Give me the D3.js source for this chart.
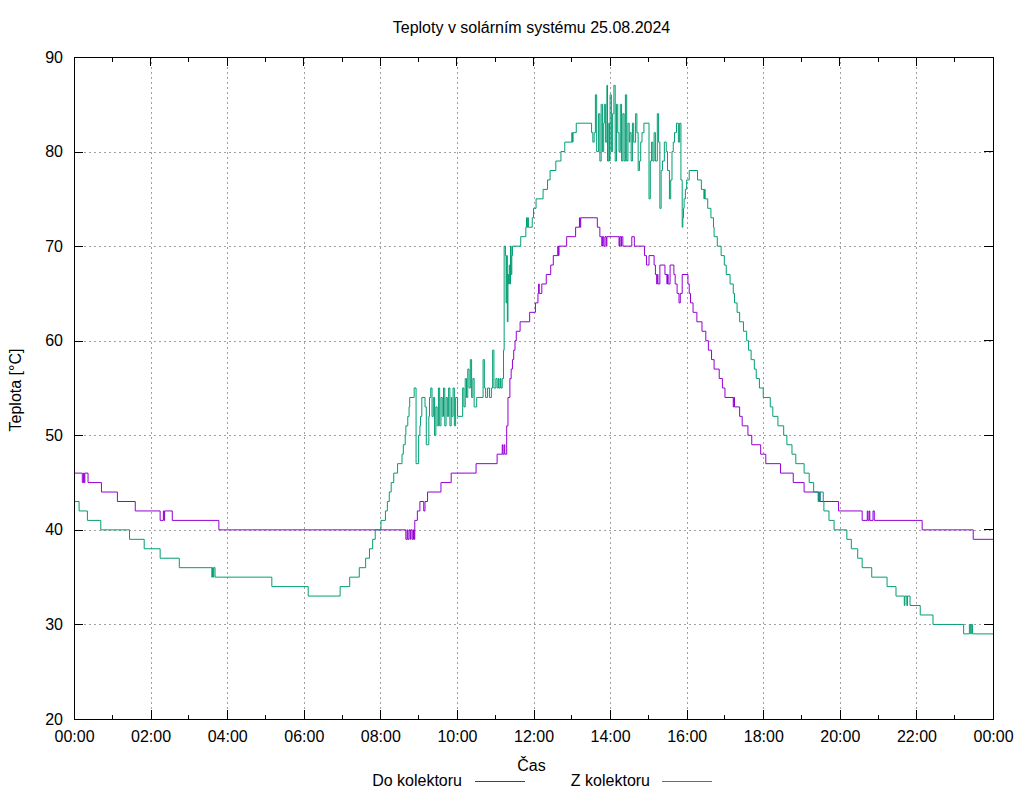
<!DOCTYPE html>
<html>
<head>
<meta charset="utf-8">
<script src="https://cdn.jsdelivr.net/npm/d3@7"></script>
<style>
  html, body { margin: 0; padding: 0; background: #fff; }
  text { font-family: "Liberation Sans", Arial, sans-serif; }
</style>
</head>
<body>
<svg id="chart" width="1024" height="800"></svg>
<script>
// ---------- DATA ----------
const chartTitle = "Teploty v solárním systému 25.08.2024";
const xAxisTitle = "Čas";
const yAxisTitle = "Teplota [°C]";
const seriesNames = ["Do kolektoru", "Z kolektoru"];

const xTickLabels = ["00:00","02:00","04:00","06:00","08:00","10:00","12:00","14:00","16:00","18:00","20:00","22:00","00:00"];
const yTickLabels = [20, 30, 40, 50, 60, 70, 80, 90];

// "Do kolektoru" (to collector)
const doTimes = ["00:00","00:13","00:15","00:16","00:17","00:22","00:43","01:08","01:36","02:15","02:20","02:21","02:22","02:34","03:47",
"08:40","08:42","08:43","08:45","08:47","08:48","08:50","08:52","08:53","08:54","08:58","09:02","09:08","09:10","09:14","09:35","09:51",
"10:30","11:03","11:11","11:12","11:14","11:15","11:18","11:20","11:23","11:25","11:27","11:29","11:31","11:33","11:39","11:54",
"12:03","12:07","12:08","12:09","12:13","12:20","12:27","12:31","12:38","12:39","12:40","12:52","13:06","13:12","13:13","13:14",
"13:40","13:44","13:47","13:48","13:50","13:52","13:54","13:55","14:14","14:15","14:17","14:18","14:20","14:34","14:38","14:54",
"14:57","15:01","15:09","15:11","15:13","15:14","15:15","15:18","15:26","15:29","15:30","15:31","15:34","15:40","15:42","15:45",
"15:48","15:50","15:53","16:02","16:04","16:06","16:10","16:16","16:24","16:30","16:34","16:39","16:43","16:51","16:56","17:00",
"17:13","17:14","17:15","17:23","17:27","17:36","17:42","17:56","18:04","18:27","18:47","19:04","19:27","19:28","19:29","19:58",
"20:35","20:43","20:44","20:46","20:47","20:52","20:54","22:09","23:29","24:00"];
const doValues = [46,45,46,45,46,45,44,43,42,41,42,41,42,41,40,
39,40,39,40,39,40,39,40,39,41,42,43,42,43,44,45,46,
47,48,49,48,49,48,51,54,56,57,58,59,60,61,62,63,
64,65,66,65,66,67,68,69,70,69,70,71,72,73,72,73,
72,71,70,71,70,71,70,71,70,71,70,71,70,71,70,69,
68,69,68,67,66,67,66,68,67,66,67,66,68,67,66,65,
64,65,67,66,65,64,63,62,61,60,59,58,57,56,55,54,
53,54,53,52,51,50,49,48,47,46,45,44,43,44,43,42,
41,42,41,42,41,42,41,40,39,39];

// "Z kolektoru" (from collector)
const zTimes = ["00:00","00:08","00:21","00:42","01:27","01:50","02:15","02:45","03:36","03:37","03:38","03:39","03:41","05:10","06:07",
"06:57","07:12","07:27","07:37","07:43","07:48","07:52","08:01","08:08","08:11","08:14","08:17","08:21","08:27","08:34","08:36",
"08:39","08:40","08:43","08:45","08:46",
"08:53","08:56","09:00","09:02","09:03","09:05","09:10","09:12","09:16","09:17","09:19","09:21","09:23","09:25","09:27","09:29",
"09:31","09:33","09:35","09:37","09:39","09:41","09:43","09:45","09:47","09:49","09:51","09:52","09:54","09:56","09:58","10:01",
"10:09","10:11","10:13","10:15","10:17","10:19","10:21","10:23","10:25","10:27","10:31","10:41","10:43","10:45","10:48","10:51",
"10:54","10:56","10:58","11:01","11:03","11:05","11:06","11:08","11:09","11:11","11:13",
"11:14","11:16","11:17","11:18","11:19","11:20","11:21","11:22",
"11:23","11:24","11:25","11:26","11:27","11:40","11:48","11:49","11:50","11:51","11:52","11:58","12:00","12:04","12:15","12:22",
"12:26","12:35","12:43","12:49","13:00","13:01","13:02","13:07",
"13:31","13:33","13:35","13:37","13:39","13:42","13:44","13:46","13:48","13:50","13:51","13:53","13:55","13:56","13:58","13:59",
"14:00","14:02","14:04","14:06","14:08","14:10","14:12","14:14","14:16","14:18","14:20","14:22","14:24","14:26","14:28","14:30",
"14:31","14:33","14:35","14:37","14:40","14:42","14:44","14:46","14:48","14:50","14:53","15:01","15:03","15:05","15:07","15:09",
"15:11","15:14","15:16","15:18","15:20","15:22","15:25","15:28","15:30","15:33","15:35","15:37","15:39","15:41","15:44","15:47",
"15:49","15:51","15:53","15:54","15:55","15:56","15:58","16:00","16:04","16:17","16:23","16:27","16:28","16:29","16:33","16:38",
"16:42","16:43","16:48","16:54","16:59","17:02","17:08","17:13","17:15","17:19","17:23","17:29","17:34","17:37","17:41","17:46",
"17:49","17:54","18:00","18:11","18:15","18:23","18:32","18:37","18:45","18:51","19:04","19:12","19:19","19:26","19:27","19:28",
"19:29","19:34","19:35","19:43","19:51","20:11","20:18","20:28","20:35","20:50","21:14","21:28","21:41","21:42","21:45","21:46",
"21:50","22:06","22:26","23:14","23:23","23:25","23:26","23:28","24:00"];
const zValues = [43,42,41,40,39,38,37,36,35,36,35,36,35,34,33,
34,35,36,37,38,39,40,41,42,43,44,45,46,47,48,49,
50,51,52,53,54,
55,47,50,51,52,54,53,49,52,54,55,52,54,50,53,51,
55,51,54,52,55,51,54,52,55,51,54,52,55,51,54,52,
55,53,56,54,57,55,58,54,56,53,54,58,55,54,55,54,
55,59,55,56,55,56,55,56,55,56,59,
70,69,64,69,62,67,66,68,
66,70,67,69,70,71,72,73,72,73,72,73,74,75,76,77,
78,79,80,81,82,81,82,83,
82,81,82,86,80,84,79,85,80,83,85,81,87,79,83,79,
86,80,84,87,79,85,82,80,85,79,84,79,86,79,83,81,
82,79,83,81,84,82,78,79,81,82,83,75,79,81,79,82,
79,84,81,74,78,79,81,80,78,75,77,80,81,82,83,81,
83,77,72,73,74,75,76,77,78,77,76,75,76,75,74,73,
72,71,70,69,68,67,66,65,64,63,62,61,60,59,58,57,
56,55,54,53,52,51,50,49,48,47,46,45,44,43,44,43,
44,43,42,41,40,39,38,37,36,35,34,33,32,33,32,33,
32,31,30,29,30,29,30,29,29];

const seriesColors = ["#9400d3", "#009e73"];

// ---------- HELPERS ----------
const toMin = s => { const [h, m] = s.split(":").map(Number); return h * 60 + m; };
const doData = doTimes.map((t, i) => ({ t: toMin(t), v: doValues[i] }));
const zData = zTimes.map((t, i) => ({ t: toMin(t), v: zValues[i] }));

// ---------- LAYOUT ----------
const M = { left: 74, right: 993, top: 57, bottom: 719 };
const FONT = 16;

const svg = d3.select("#chart");
const x = d3.scaleLinear().domain([0, 1440]).range([M.left, M.right]);
const y = d3.scaleLinear().domain([20, 90]).range([M.bottom, M.top]);

const majorX = xTickLabels.map((_, i) => i * 120);
const minorX = d3.range(60, 1440, 120);

// grid
const grid = svg.append("g").attr("stroke", "#a0a0a0").attr("stroke-width", 1).attr("stroke-dasharray", "2,3").attr("shape-rendering", "crispEdges");
majorX.slice(1, -1).forEach(v => {
  grid.append("line").attr("x1", Math.round(x(v)) + 0.5).attr("x2", Math.round(x(v)) + 0.5).attr("y1", M.top).attr("y2", M.bottom);
});
yTickLabels.slice(1, -1).forEach(v => {
  grid.append("line").attr("x1", M.left).attr("x2", M.right).attr("y1", Math.round(y(v)) + 0.5).attr("y2", Math.round(y(v)) + 0.5);
});

// axes (ticks inward)
const xAxis = d3.axisBottom(x).tickValues(majorX).tickSize(-9).tickPadding(12)
  .tickFormat((d, i) => xTickLabels[i]);
const gx = svg.append("g").attr("transform", `translate(0,${M.bottom})`).call(xAxis);
const yAxis = d3.axisLeft(y).tickValues(yTickLabels).tickSize(-9).tickPadding(11)
  .tickFormat(d => String(d));
const gy = svg.append("g").attr("transform", `translate(${M.left},0)`).call(yAxis);
[gx, gy].forEach(g => {
  g.select(".domain").remove();
  g.selectAll("line").attr("stroke", "#000").attr("shape-rendering", "crispEdges");
  g.selectAll("text").attr("font-size", FONT).attr("fill", "#000").attr("font-family", "Liberation Sans, Arial, sans-serif");
});

// mirrored / minor ticks
const ticks = svg.append("g").attr("stroke", "#000").attr("stroke-width", 1).attr("shape-rendering", "crispEdges");
majorX.forEach(v => {
  ticks.append("line").attr("x1", x(v)).attr("x2", x(v)).attr("y1", M.top).attr("y2", M.top + 9);
});
minorX.forEach(v => {
  ticks.append("line").attr("x1", x(v)).attr("x2", x(v)).attr("y1", M.bottom).attr("y2", M.bottom - 4.5);
  ticks.append("line").attr("x1", x(v)).attr("x2", x(v)).attr("y1", M.top).attr("y2", M.top + 4.5);
});
yTickLabels.forEach(v => {
  ticks.append("line").attr("x1", M.right).attr("x2", M.right - 9).attr("y1", y(v)).attr("y2", y(v));
});

// data lines
const line = d3.line().x(d => x(d.t)).y(d => y(d.v)).curve(d3.curveStepAfter);
[doData, zData].forEach((data, i) => {
  svg.append("path").datum(data)
    .attr("fill", "none").attr("stroke", seriesColors[i]).attr("stroke-width", 1)
    .attr("d", line);
});

// border
svg.append("rect").attr("x", M.left + 0.5).attr("y", M.top + 0.5)
  .attr("width", M.right - M.left).attr("height", M.bottom - M.top)
  .attr("fill", "none").attr("stroke", "#000").attr("stroke-width", 1);

// title & axis titles
svg.append("text").attr("x", (M.left + M.right) / 2 - 2).attr("y", 33)
  .attr("text-anchor", "middle").attr("font-size", FONT).text(chartTitle);
svg.append("text").attr("x", (M.left + M.right) / 2 - 2).attr("y", 771)
  .attr("text-anchor", "middle").attr("font-size", FONT).text(xAxisTitle);
svg.append("text").attr("transform", `translate(21,${(M.top + M.bottom) / 2 + 2}) rotate(-90)`)
  .attr("text-anchor", "middle").attr("font-size", FONT).text(yAxisTitle);

// legend
const legendPos = [{ tx: 462, lx1: 475, lx2: 525 }, { tx: 650, lx1: 662, lx2: 712 }];
seriesNames.forEach((name, i) => {
  const p = legendPos[i];
  svg.append("text").attr("x", p.tx).attr("y", 786).attr("text-anchor", "end")
    .attr("font-size", FONT).text(name);
  svg.append("line").attr("x1", p.lx1).attr("x2", p.lx2).attr("y1", 781.5).attr("y2", 781.5)
    .attr("stroke", seriesColors[i]).attr("stroke-width", 1).attr("shape-rendering", "crispEdges");
});
</script>
</body>
</html>
